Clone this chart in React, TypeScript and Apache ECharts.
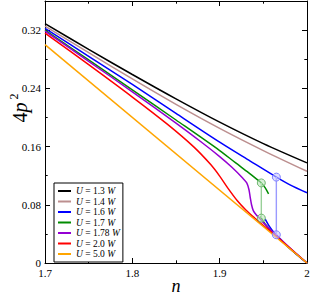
import React, { useEffect, useRef } from "react";
import * as echarts from "echarts";

const FONT = '"Liberation Serif", "Times New Roman", serif';

// legend labels
const names = ["U = 1.3 W", "U = 1.4 W", "U = 1.6 W", "U = 1.7 W", "U = 1.78 W", "U = 2.0 W", "U = 5.0 W"];
const colors = ["#000000", "#bc8f8f", "#0000ff", "#008b00", "#9400d3", "#ff0000", "#ffa500"];

// [n, 4p^2]
const u13: [number, number][] = [[1.7, 0.329], [1.75, 0.2935], [1.8, 0.259], [1.85, 0.2255], [1.9, 0.1935], [1.95, 0.164], [2.0, 0.1375]];
const u14: [number, number][] = [[1.7, 0.3256], [1.75, 0.289], [1.8, 0.253], [1.85, 0.218], [1.9, 0.185], [1.95, 0.1545], [2.0, 0.126]];
const u16Upper: [number, number][] = [[1.7, 0.3224], [1.75, 0.284], [1.8, 0.2455], [1.85, 0.2055], [1.9, 0.166], [1.935, 0.14], [1.9649, 0.118], [1.98, 0.1078], [2.0, 0.0965]];
const u16Lower: [number, number][] = [[1.952, 0.0605], [1.956, 0.052], [1.9605, 0.0445], [1.9649, 0.0388], [1.98, 0.0205], [2.0, 0]];
const u17Upper: [number, number][] = [[1.7, 0.32], [1.75, 0.279], [1.8, 0.238], [1.85, 0.1965], [1.9, 0.1545], [1.918, 0.1378], [1.933, 0.1242], [1.9427, 0.115], [1.9477, 0.11], [1.952, 0.1035], [1.956, 0.095]];
const u17Lower: [number, number][] = [[1.9465, 0.064], [1.9477, 0.0617], [1.952, 0.0535], [1.957, 0.0468], [1.965, 0.0372], [1.98, 0.0203], [2.0, 0]];
const u178: [number, number][] = [[1.7, 0.3187], [1.75, 0.2772], [1.8, 0.2352], [1.85, 0.1922], [1.88, 0.1652], [1.9, 0.1462], [1.914, 0.1315], [1.926, 0.1171], [1.931, 0.11], [1.9335, 0.101], [1.935, 0.09], [1.9365, 0.08], [1.9385, 0.072], [1.942, 0.066], [1.946, 0.061], [1.95, 0.0555], [1.96, 0.0435], [1.98, 0.0212], [2.0, 0]];
const u20: [number, number][] = [[1.7, 0.316], [1.75, 0.2725], [1.8, 0.228], [1.84, 0.1908], [1.87, 0.1599], [1.89, 0.1349], [1.9, 0.1194], [1.91, 0.1019], [1.92, 0.0859], [1.93, 0.0729], [1.94, 0.0619], [1.95, 0.0516], [1.96, 0.0415], [1.98, 0.0207], [2.0, 0]];
const u50: [number, number][] = [[1.7, 0.3], [2.0, 0]];

// first-order jumps
const jump16: [number, number][] = [[1.9649, 0.118], [1.9649, 0.0388]];
const jump17: [number, number][] = [[1.9477, 0.11], [1.9477, 0.0617]];

function line(name: string, data: [number, number][], color: string) {
  return {
    type: "line",
    name,
    data,
    xAxisIndex: 0,
    yAxisIndex: 0,
    symbol: "none",
    showSymbol: false,
    smooth: 0.3,
    lineStyle: { color, width: 1.5 },
    itemStyle: { color },
  };
}

function jump(name: string, data: [number, number][], lineColor: string, fill: string, stroke: string) {
  return {
    type: "line",
    name,
    data,
    xAxisIndex: 0,
    yAxisIndex: 0,
    symbol: "circle",
    symbolSize: 8,
    showSymbol: true,
    lineStyle: { color: lineColor, width: 1.4 },
    itemStyle: { color: fill, borderColor: stroke, borderWidth: 1 },
    z: 5,
  };
}

export default function App() {
  const ref = useRef<HTMLDivElement>(null);
  useEffect(() => {
    document.body.style.margin = "0";
    const chart = echarts.init(ref.current!, undefined, { renderer: "svg" });
    const xBase = {
      type: "value",
      min: 1.7,
      max: 2.0,
      interval: 0.1,
      axisLine: { show: true, onZero: false, lineStyle: { color: "#000", width: 1 } },
      axisTick: { show: true, inside: true, length: 5, lineStyle: { color: "#000" } },
      minorTick: { show: true, splitNumber: 2, length: 2.7, lineStyle: { color: "#000" } },
      splitLine: { show: false },
      minorSplitLine: { show: false },
    };
    const yMajor = (position: string, labels: boolean) => ({
      type: "value",
      position,
      min: 0,
      max: 0.36,
      interval: 0.08,
      axisLine: { show: true, onZero: false, lineStyle: { color: "#000", width: 1 } },
      axisTick: { show: true, inside: true, length: 5, lineStyle: { color: "#000" } },
      splitLine: { show: false },
      axisLabel: labels
        ? { show: true, showMaxLabel: false, fontFamily: FONT, fontSize: 11, lineHeight: 10, color: "#000", margin: 4 }
        : { show: false },
    });
    const yMinor = (position: string) => ({
      type: "value",
      position,
      min: 0,
      max: 0.36,
      interval: 0.04,
      axisLine: { show: false },
      axisTick: { show: true, inside: true, length: 2.7, lineStyle: { color: "#000" } },
      splitLine: { show: false },
      axisLabel: { show: false },
    });
    const option = {
      animation: false,
      backgroundColor: "#fff",
      grid: { left: 45, right: 4, top: 1, bottom: 33, containLabel: false, outerBoundsMode: "none" },
      xAxis: [
        {
          ...xBase,
          position: "bottom",
          axisLabel: { show: true, fontFamily: FONT, fontSize: 11, lineHeight: 10, color: "#000", margin: 5 },
          name: "n",
          nameLocation: "middle",
          nameGap: 14,
          nameMoveOverlap: false,
          nameTextStyle: { fontFamily: FONT, fontStyle: "italic", fontSize: 18, lineHeight: 18, color: "#000", verticalAlign: "top" },
        },
        { ...xBase, position: "top", axisLabel: { show: false } },
      ],
      yAxis: [yMajor("left", true), yMinor("left"), yMajor("right", false), yMinor("right")],
      legend: {
        data: names,
        orient: "vertical",
        left: 54,
        top: 183,
        padding: [3, 3, 3, 4],
        itemGap: 0.5,
        itemWidth: 13,
        itemHeight: 2,
        icon: "rect",
        borderColor: "#000",
        borderWidth: 1,
        backgroundColor: "#fff",
        selectedMode: false,
        formatter: (name: string) => name.replace(/^U/, "{i|U}").replace(/W$/, "{i|W}"),
        textStyle: {
          fontFamily: FONT,
          fontSize: 9.5,
          lineHeight: 9,
          color: "#000",
          rich: { i: { fontFamily: FONT, fontStyle: "italic", fontSize: 9.5, lineHeight: 9, color: "#000" } },
        },
      },
      graphic: [
        {
          type: "text",
          x: 19,
          y: 108,
          rotation: Math.PI / 2,
          style: {
            text: "{a|4}{b|p}{s|2}",
            align: "center",
            verticalAlign: "middle",
            fill: "#000",
            rich: {
              a: { fontFamily: FONT, fontSize: 20, lineHeight: 22, verticalAlign: "bottom" },
              b: { fontFamily: FONT, fontStyle: "italic", fontSize: 20, lineHeight: 22, verticalAlign: "bottom" },
              s: { fontFamily: FONT, fontSize: 12, lineHeight: 12, verticalAlign: "top", padding: [0, 0, 0, 3] },
            },
          },
        },
      ],
      series: [
        line(names[0], u13, colors[0]),
        line(names[1], u14, colors[1]),
        line(names[2], u16Upper, colors[2]),
        line(names[2], u16Lower, colors[2]),
        line(names[3], u17Upper, colors[3]),
        line(names[3], u17Lower, colors[3]),
        line(names[4], u178, colors[4]),
        line(names[5], u20, colors[5]),
        line(names[6], u50, colors[6]),
        jump("jump U=1.6", jump16, "#9a9aff", "rgba(200,200,255,0.6)", "#8080ff"),
        jump("jump U=1.7", jump17, "#99d099", "rgba(190,230,190,0.6)", "#70b870"),
      ],
    };
    chart.setOption(option as any);
    return () => chart.dispose();
  }, []);
  return <div ref={ref} style={{ position: "fixed", left: 0, top: 0, width: 311, height: 296 }} />;
}
